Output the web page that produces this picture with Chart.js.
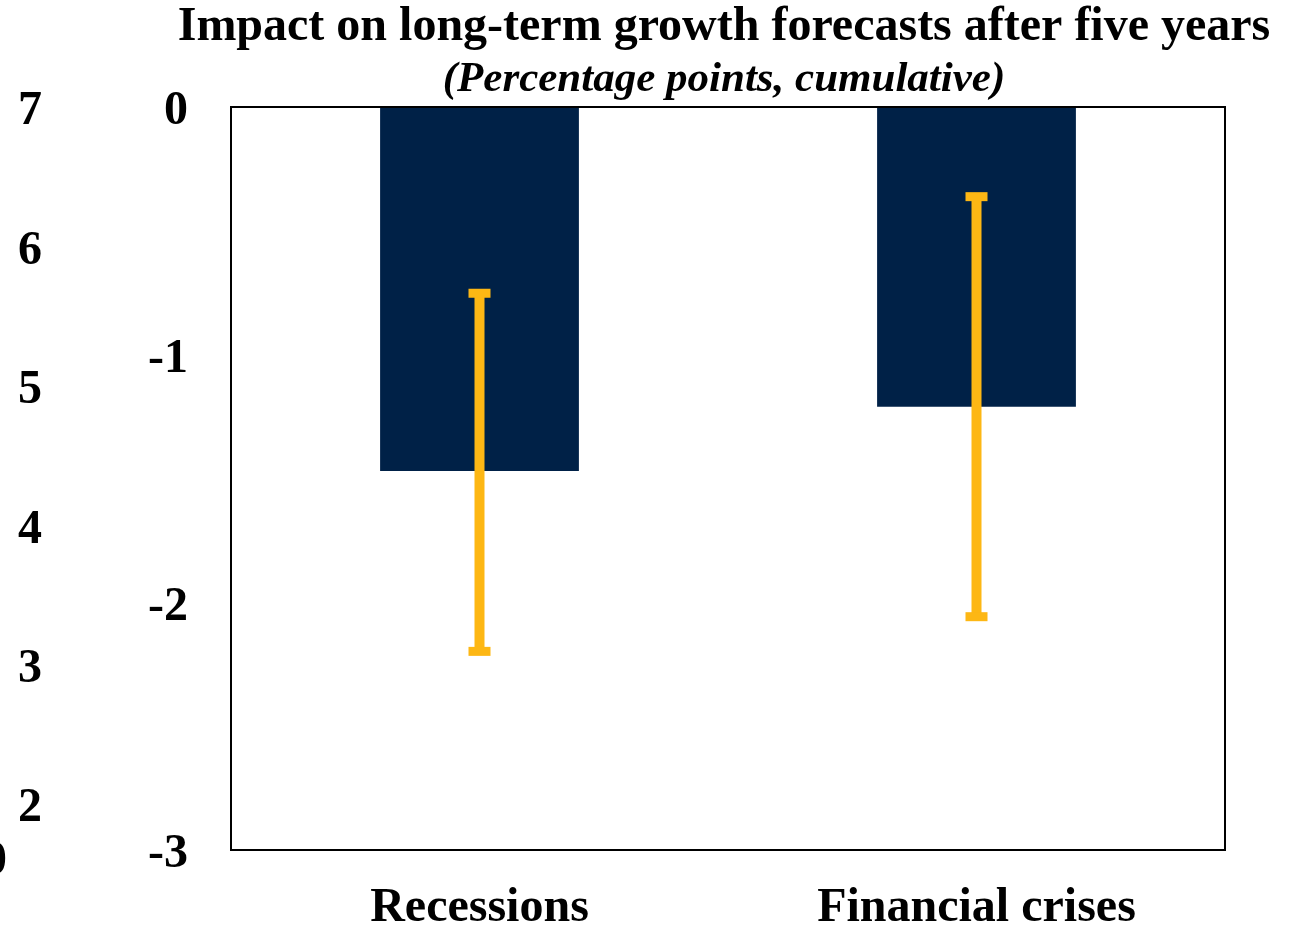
<!DOCTYPE html>
<html>
<head>
<meta charset="utf-8">
<script src="https://cdn.jsdelivr.net/npm/chart.js@4"></script>
<style>
    html, body { margin: 0; padding: 0; background: #fff; }
    #wrap { width: 1299px; height: 926px; position: relative; }
</style>
</head>
<body>
<div id="wrap"><canvas id="chart"></canvas></div>
<script>
const categories = ['Recessions', 'Financial crises'];
const impact = [-1.47, -1.21];
const errLow = [-2.2, -2.06];
const errHigh = [-0.75, -0.36];
const leftTicks = [7, 6, 5, 4, 3, 2];
const mainTicks = [0, -1, -2, -3];
const titleText = 'Impact on long-term growth forecasts after five years';
const subtitleText = '(Percentage points, cumulative)';

const serif = '"Liberation Serif", "Times New Roman", serif';

// error bars drawn on top of the bars, from the y scale
const errorBars = {
    id: 'errorBars',
    afterDatasetsDraw(chart) {
        const ctx = chart.ctx;
        const y = chart.scales.y;
        const meta = chart.getDatasetMeta(0);
        ctx.save();
        ctx.fillStyle = '#FDB714';
        meta.data.forEach((bar, i) => {
            const top = y.getPixelForValue(errHigh[i]);
            const bot = y.getPixelForValue(errLow[i]);
            ctx.fillRect(bar.x - 5, top, 10, bot - top);
            ctx.fillRect(bar.x - 11, top - 4, 22, 9);
            ctx.fillRect(bar.x - 11, bot - 5, 22, 9);
        });
        ctx.restore();
    }
};

// frame round the plot area, titles centred over it (wider than the area, so not the built-in title),
// and the clipped stray label at the far left
const frame = {
    id: 'frame',
    afterDraw(chart) {
        const a = chart.chartArea;
        const ctx = chart.ctx;
        const cx = (a.left + a.right) / 2 - 4;
        ctx.save();
        ctx.strokeStyle = '#000';
        ctx.lineWidth = 2;
        ctx.strokeRect(a.left, a.top, a.right - a.left, a.bottom - a.top);
        ctx.fillStyle = '#000';
        ctx.textAlign = 'center';
        ctx.textBaseline = 'middle';
        ctx.font = 'bold 48px ' + serif;
        ctx.fillText(titleText, cx, 28);
        ctx.font = 'italic bold 43px ' + serif;
        ctx.fillText(subtitleText, cx, 80);
        ctx.font = 'bold 48px ' + serif;
        ctx.textAlign = 'right';
        ctx.fillText('0', 7, 862);
        ctx.restore();
    }
};

new Chart(document.getElementById('chart'), {
    type: 'bar',
    data: {
        labels: categories,
        datasets: [{
            data: impact,
            backgroundColor: '#002147',
            borderWidth: 0,
            categoryPercentage: 1,
            barPercentage: 0.4
        }]
    },
    options: {
        responsive: true,
        maintainAspectRatio: false,
        animation: false,
        layout: { padding: { top: 107, right: 74, bottom: 0, left: 0 } },
        plugins: {
            legend: { display: false },
            tooltip: { enabled: false },
            title: { display: false }
        },
        scales: {
            x: {
                grid: { display: false, drawTicks: false },
                border: { display: false },
                ticks: {
                    color: '#000',
                    padding: 30,
                    font: { family: serif, size: 48, weight: 'bold' }
                },
                afterFit(s) { s.height = 76; }
            },
            y: {
                position: 'left',
                weight: 0,
                min: -3,
                max: 0,
                grid: { display: false, drawTicks: false },
                border: { display: false },
                afterBuildTicks(s) { s.ticks = mainTicks.map(v => ({ value: v })); },
                ticks: {
                    color: '#000',
                    padding: 43,
                    labelOffset: 5,
                    font: { family: serif, size: 48, weight: 'bold' }
                },
                afterFit(s) { s.width = 186; }
            },
            y2: {
                position: 'left',
                weight: 1,
                min: 1.67,
                max: 7,
                grid: { display: false, drawTicks: false },
                border: { display: false },
                afterBuildTicks(s) { s.ticks = leftTicks.map(v => ({ value: v })); },
                ticks: {
                    color: '#000',
                    padding: 3,
                    labelOffset: 5,
                    font: { family: serif, size: 48, weight: 'bold' }
                },
                afterFit(s) { s.width = 45; }
            }
        }
    },
    plugins: [errorBars, frame]
});
</script>
</body>
</html>
